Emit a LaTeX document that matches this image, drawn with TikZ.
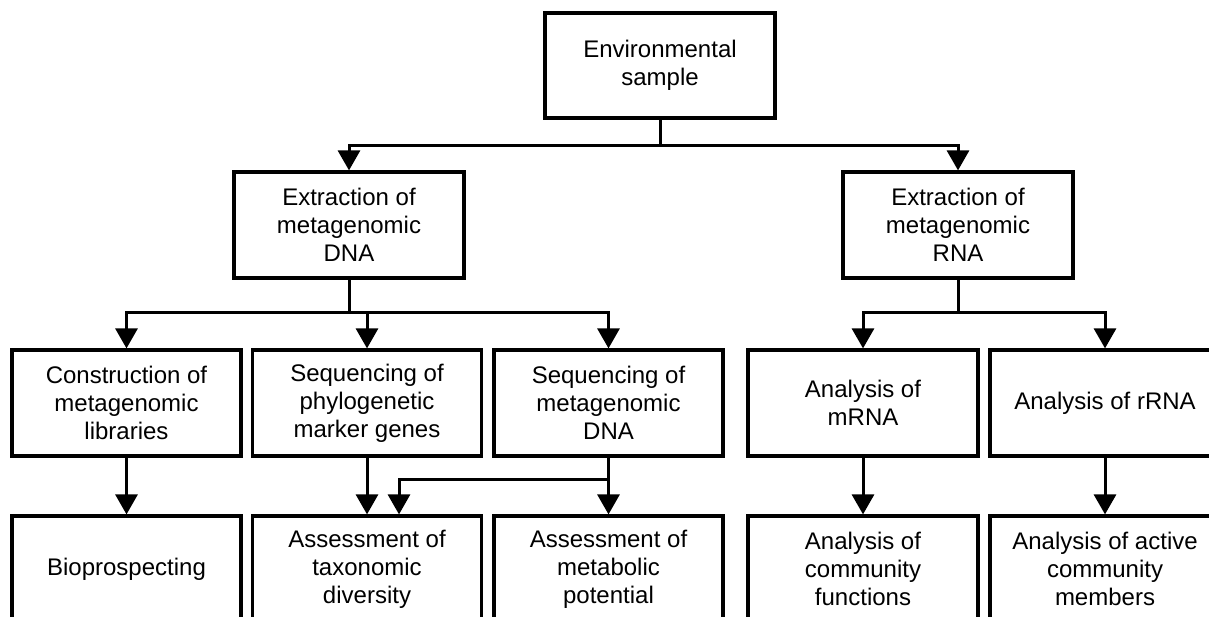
\documentclass[tikz,border=0pt]{standalone}
\usepackage{fontspec}
\setmainfont{Liberation Sans}
\usetikzlibrary{arrows.meta}
\begin{document}
\begin{tikzpicture}[x=1pt,y=-1pt,
  box/.style={draw=black,line width=3.2pt,minimum width=229pt,minimum height=106pt,
    inner sep=0pt,align=center,font=\fontsize{24}{28}\selectfont},
  conn/.style={line width=3pt,-{Triangle[width=22pt,length=20pt]}},
  trunk/.style={line width=3pt}]
\clip (0,0) rectangle (1209,617);
\fill[white] (0,0) rectangle (1209,617);
% row 1
\node[box,minimum width=230pt,minimum height=105pt] (env) at (660,65.5) {Environmental\\sample};
% row 2
\node[box,minimum width=230pt] (dna) at (349,225) {Extraction of\\metagenomic\\DNA};
\node[box,minimum width=230pt] (rna) at (958,225) {Extraction of\\metagenomic\\RNA};
% row 3
\node[box] (lib) at (126.5,403) {Construction of\\metagenomic\\libraries};
\node[box] (phy) at (367,403) {Sequencing of\\phylogenetic\\marker genes};
\node[box] (seqd) at (608.5,403) {Sequencing of\\metagenomic\\DNA};
\node[box,minimum width=230pt] (mrna) at (863,403) {Analysis of\\mRNA};
\node[box,minimum width=230pt] (rrna) at (1105,403) {Analysis of rRNA};
% row 4
\node[box] (bio) at (126.5,569) {Bioprospecting};
\node[box] (tax) at (367,569) {Assessment of\\taxonomic\\diversity};
\node[box] (met) at (608.5,569) {Assessment of\\metabolic\\potential};
\node[box,minimum width=230pt] (fun) at (863,569) {Analysis of\\community\\functions};
\node[box,minimum width=230pt] (act) at (1105,569) {Analysis of active\\community\\members};
% junctions
\coordinate (j1) at (660,146);
\coordinate (j2) at (349,313);
\coordinate (j3) at (958,313);
\path (seqd.south) ++(0,22) coordinate (j4);
% connectors
\draw[trunk] (env.south) -- (j1);
\draw[conn] (j1) -| (dna.north);
\draw[conn] (j1) -| (rna.north);
\draw[trunk] (dna.south) -- (j2);
\draw[conn] (j2) -| (lib.north);
\draw[conn] (j2) -| (phy.north);
\draw[conn] (j2) -| (seqd.north);
\draw[trunk] (rna.south) -- (j3);
\draw[conn] (j3) -| (mrna.north);
\draw[conn] (j3) -| (rrna.north);
\draw[conn] (lib.south) -- (bio.north);
\draw[conn] (phy.south) -- (tax.north);
\draw[conn] (seqd.south) -- (met.north);
\draw[conn] (j4) -| ([xshift=32pt]tax.north);
\draw[conn] (mrna.south) -- (fun.north);
\draw[conn] (rrna.south) -- (act.north);
\end{tikzpicture}
\end{document}
